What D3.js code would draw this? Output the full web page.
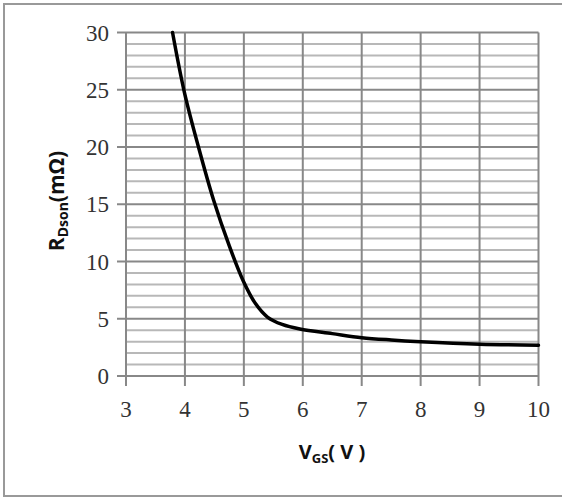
<!DOCTYPE html>
<html><head><meta charset="utf-8">
<script src="https://cdn.jsdelivr.net/npm/d3@7"></script>
<style>body{margin:0;background:#fff}svg{display:block}</style>
</head><body>
<script>
const vgs = [3.79, 3.99, 4.23, 4.49, 4.75, 4.99, 5.2, 5.4, 5.65, 5.95, 6.5, 7.0, 7.5, 8.0, 9.0, 10.0];
const rdson = [30, 24.8, 20.0, 15.3, 11.4, 8.3, 6.3, 5.15, 4.5, 4.1, 3.7, 3.35, 3.15, 3.0, 2.78, 2.68];
const xTicks = [3, 4, 5, 6, 7, 8, 9, 10];
const yTicks = [0, 5, 10, 15, 20, 25, 30];
const yMinor = d3.range(0, 31, 1);

const W = 562, H = 501;
const svg = d3.select("body").append("svg").attr("width", W).attr("height", H);
svg.append("rect").attr("x", 4).attr("y", 4).attr("width", 600).attr("height", 492)
  .attr("fill", "none").attr("stroke", "#999").attr("stroke-width", 2);

const x = d3.scaleLinear().domain([3, 10]).range([126, 538.5]);
const y = d3.scaleLinear().domain([0, 30]).range([376, 32.5]);

const g = svg.append("g");
g.selectAll(".mn").data(yMinor.filter(v => v % 5 !== 0)).join("line")
  .attr("x1", x(3)).attr("x2", x(10)).attr("y1", d => y(d)).attr("y2", d => y(d))
  .attr("stroke", "#b8b8b8").attr("stroke-width", 2);
g.selectAll(".mj").data(yTicks).join("line")
  .attr("x1", x(3) - 9).attr("x2", x(10)).attr("y1", d => y(d)).attr("y2", d => y(d))
  .attr("stroke", "#888").attr("stroke-width", 2);
g.selectAll(".vg").data(xTicks).join("line")
  .attr("x1", d => x(d)).attr("x2", d => x(d)).attr("y1", y(30)).attr("y2", y(0) + 10)
  .attr("stroke", "#888").attr("stroke-width", 2);

svg.selectAll(".yl").data(yTicks).join("text")
  .attr("x", 109).attr("y", d => y(d) + 8)
  .attr("text-anchor", "end").attr("font-family", "Liberation Serif, serif")
  .attr("font-size", 23).attr("fill", "#333").text(d => d);
svg.selectAll(".xl").data(xTicks).join("text")
  .attr("x", d => x(d)).attr("y", 417)
  .attr("text-anchor", "middle").attr("font-family", "Liberation Serif, serif")
  .attr("font-size", 23).attr("fill", "#333").text(d => d);

const line = d3.line().x((d, i) => x(vgs[i])).y(d => y(d)).curve(d3.curveCatmullRom.alpha(0.5));
svg.append("path").datum(rdson).attr("d", line)
  .attr("fill", "none").attr("stroke", "#000").attr("stroke-width", 3.5).attr("stroke-linecap", "round");

const xt = svg.append("text").attr("x", 332).attr("y", 459).attr("text-anchor", "middle")
  .attr("font-family", "Open Sans, sans-serif").attr("font-weight", "bold").attr("font-size", 20).attr("fill", "#111");
xt.append("tspan").text("V");
xt.append("tspan").attr("font-size", 13).attr("dy", 4).text("GS");
xt.append("tspan").attr("dy", -4).text("( V )");

const yt = svg.append("text").attr("transform", "translate(64,201) rotate(-90)").attr("text-anchor", "middle")
  .attr("font-family", "Open Sans, sans-serif").attr("font-weight", "bold").attr("font-size", 21).attr("fill", "#111");
yt.append("tspan").text("R");
yt.append("tspan").attr("font-size", 14).attr("dy", 4).text("Dson");
yt.append("tspan").attr("dy", -4).text("(mΩ)");
</script>
</body></html>
